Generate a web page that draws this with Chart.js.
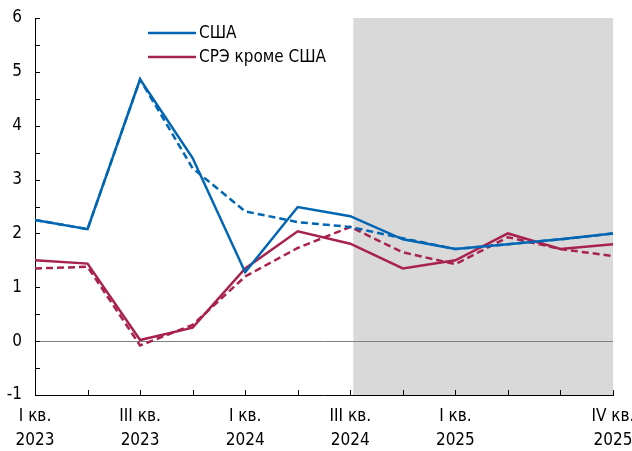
<!DOCTYPE html>
<html>
<head>
<meta charset="utf-8">
<script src="https://cdn.jsdelivr.net/npm/chart.js@4.4.1/dist/chart.umd.min.js"></script>
<style>
html,body{margin:0;padding:0;background:#fff;}
#wrap{width:632px;height:451px;position:relative;}
</style>
</head>
<body>
<div id="wrap"><canvas id="c" width="632" height="451"></canvas></div>
<script>
// ---- data ----
const quarters = ['I кв. 2023','II кв. 2023','III кв. 2023','IV кв. 2023','I кв. 2024','II кв. 2024','III кв. 2024','IV кв. 2024','I кв. 2025','II кв. 2025','III кв. 2025','IV кв. 2025'];
const tickLabels = [['I кв.','2023'],'',['III кв.','2023'],'',['I кв.','2024'],'',['III кв.','2024'],'',['I кв.','2025'],'','',['IV кв.','2025']];
const usaActual = [2.25, 2.08, 4.86, 3.40, 1.28, 2.49, 2.32, 1.89, 1.71, 1.80, 1.89, 2.00];
const usaPrev   = [2.25, 2.08, 4.86, 3.21, 2.41, 2.21, 2.12, 1.91, 1.71, 1.80, 1.89, 2.00];
const emActual  = [1.50, 1.44, 0.02, 0.25, 1.35, 2.04, 1.81, 1.35, 1.50, 2.00, 1.71, 1.80];
const emPrev    = [1.35, 1.38, -0.08, 0.30, 1.20, 1.73, 2.12, 1.65, 1.43, 1.93, 1.71, 1.58];
const seriesNames = ['США', 'СРЭ кроме США'];
const forecastStart = 6; // index of III кв. 2024

const BLUE = '#0066B3';
const RED = '#A8224F';
const FONT = '"Liberation Sans Narrow", "Arial Narrow", "DejaVu Sans Condensed", sans-serif';

const shadePlugin = {
  id: 'shade',
  beforeDraw(chart) {
    const {ctx, chartArea, scales} = chart;
    const x0 = scales.x.getPixelForValue(forecastStart) + 3;
    ctx.save();
    ctx.fillStyle = '#d9d9d9';
    ctx.fillRect(x0, chartArea.top, chartArea.right - x0, chartArea.bottom - chartArea.top);
    ctx.restore();
  }
};

const ticksPlugin = {
  id: 'innerTicks',
  beforeDatasetsDraw(chart) {
    const {ctx, chartArea, scales} = chart;
    ctx.save();
    ctx.strokeStyle = '#000';
    ctx.lineWidth = 1;
    ctx.beginPath();
    for (let i = 0; i < quarters.length; i++) {
      const x = Math.round(scales.x.getPixelForValue(i)) + 0.5;
      ctx.moveTo(x, chartArea.bottom);
      ctx.lineTo(x, chartArea.bottom - 5);
    }
    for (let v = -1; v <= 6.001; v += 0.5) {
      const y = Math.round(scales.y.getPixelForValue(v)) + 0.5;
      ctx.moveTo(chartArea.left, y);
      ctx.lineTo(chartArea.left + 5, y);
    }
    ctx.stroke();
    ctx.restore();
  }
};

const legendPlugin = {
  id: 'customLegend',
  afterDraw(chart) {
    const {ctx, chartArea} = chart;
    const items = [[seriesNames[0], BLUE], [seriesNames[1], RED]];
    const x0 = chartArea.left + 113;
    let y = chartArea.top + 15;
    ctx.save();
    ctx.font = '17px ' + FONT;
    ctx.textBaseline = 'middle';
    ctx.fillStyle = '#000';
    items.forEach(([t, c]) => {
      ctx.strokeStyle = c;
      ctx.lineWidth = 2.5;
      ctx.beginPath();
      ctx.moveTo(x0, y);
      ctx.lineTo(x0 + 48, y);
      ctx.stroke();
      ctx.fillText(t, x0 + 51, y + 1);
      y += 24;
    });
    ctx.restore();
  }
};

const ds = (label, data, color, dashed, order) => ({
  label, data,
  borderColor: color,
  backgroundColor: color,
  borderWidth: 2.5,
  borderDash: dashed ? [7, 4] : [],
  pointRadius: 0,
  pointHoverRadius: 0,
  tension: 0,
  fill: false,
  order
});

new Chart(document.getElementById('c'), {
  type: 'line',
  data: {
    labels: quarters,
    datasets: [
      ds(seriesNames[0], usaActual, BLUE, false, 1),
      ds(seriesNames[1], emActual, RED, false, 2),
      ds(seriesNames[0] + ' (пред.)', usaPrev, BLUE, true, 3),
      ds(seriesNames[1] + ' (пред.)', emPrev, RED, true, 4)
    ]
  },
  options: {
    responsive: false,
    animation: false,
    layout: {padding: {left: 0, right: 19, top: 18, bottom: 0}},
    plugins: {legend: {display: false}, tooltip: {enabled: false}, title: {display: false}},
    scales: {
      x: {
        offset: false,
        grid: {display: false, drawTicks: false},
        border: {display: true, color: '#000', width: 1},
        ticks: {
          autoSkip: false, maxRotation: 0, minRotation: 0,
          padding: 9,
          color: '#000',
          font: {family: FONT, size: 17, lineHeight: 1.45},
          callback: (v, i) => tickLabels[i]
        },
        afterFit(s) { s.height = 56; s.paddingLeft = 0; s.paddingRight = 0; }
      },
      y: {
        min: -1, max: 6,
        grid: {
          drawTicks: false,
          color: c => (c.tick && c.tick.value === 0) ? '#7f7f7f' : 'rgba(0,0,0,0)',
          lineWidth: 1
        },
        border: {display: true, color: '#000', width: 1},
        ticks: {
          stepSize: 1,
          padding: 13,
          color: '#000',
          font: {family: FONT, size: 17},
          callback: v => String(v)
        },
        afterFit(s) { s.width = 35; s.paddingTop = 0; s.paddingBottom = 0; }
      }
    }
  },
  plugins: [shadePlugin, ticksPlugin, legendPlugin]
});
</script>
</body>
</html>
